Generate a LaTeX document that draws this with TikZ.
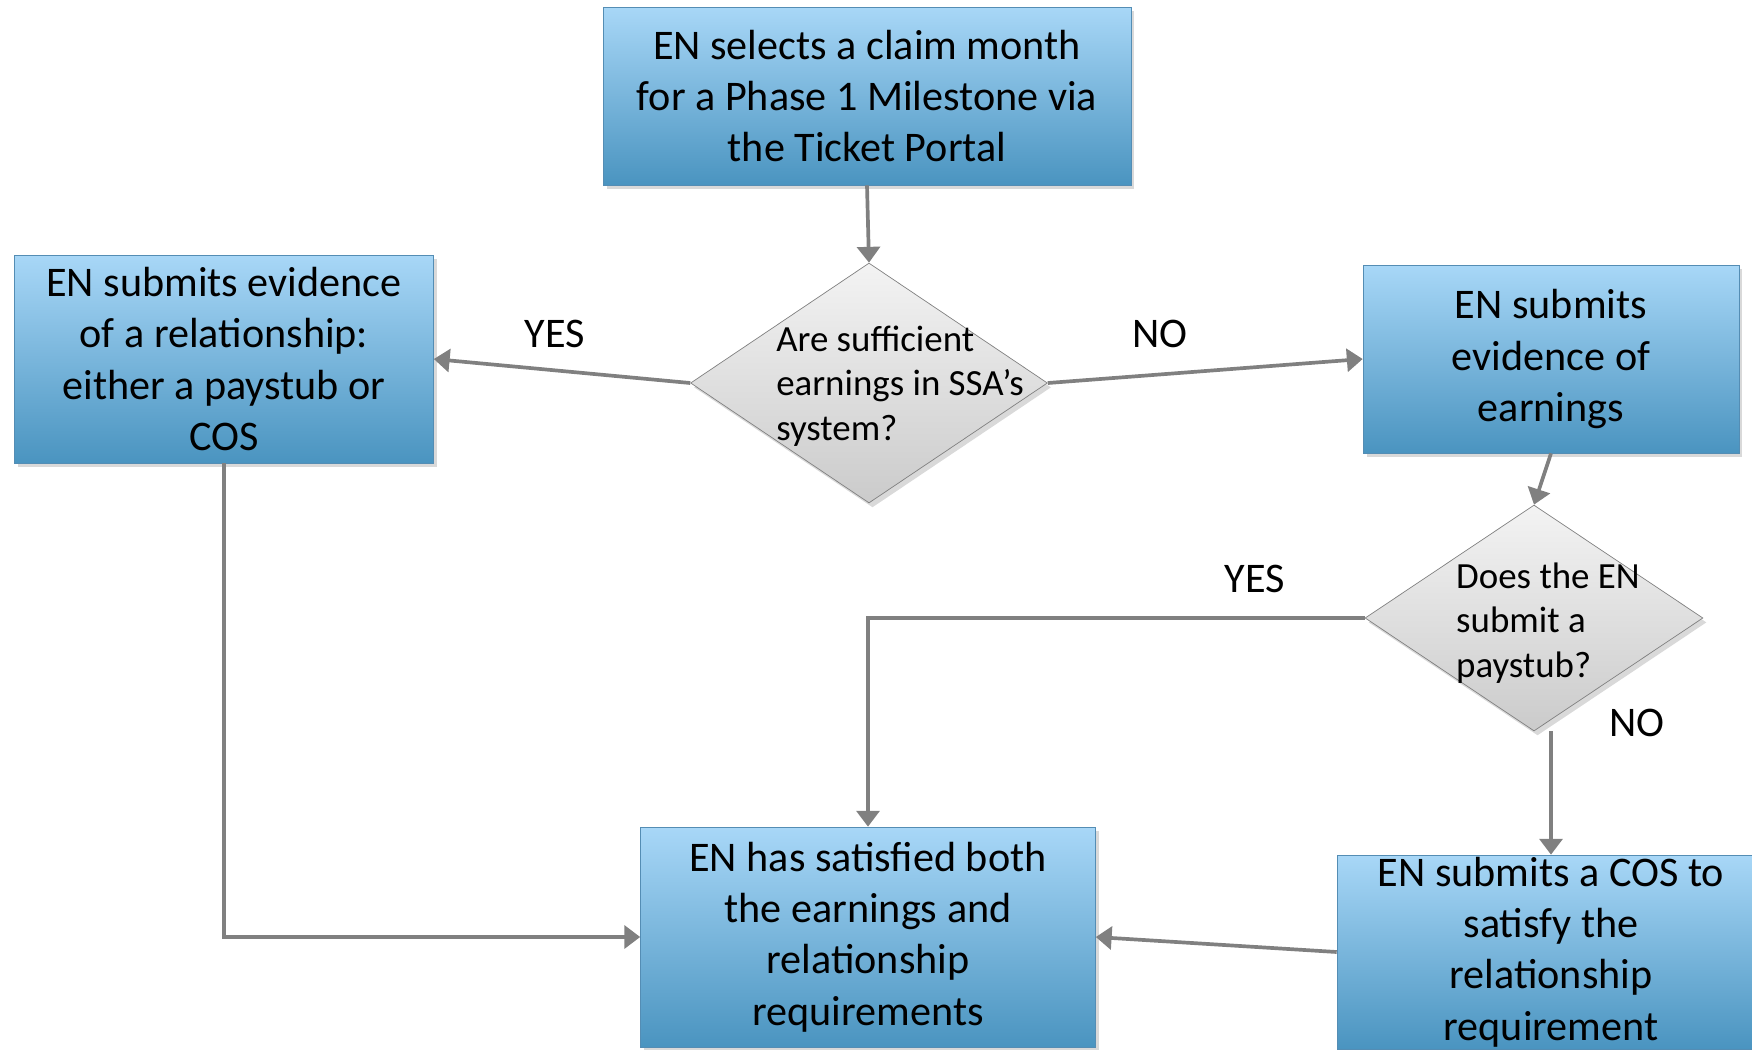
\documentclass[tikz,border=0pt]{standalone}
\usepackage{fontspec}
\setmainfont{Carlito}
\usetikzlibrary{shapes.geometric,arrows.meta,shadows}
\definecolor{boxtop}{RGB}{168,215,247}
\definecolor{boxbot}{RGB}{74,148,192}
\definecolor{boxline}{RGB}{84,141,180}
\definecolor{dectop}{RGB}{243,243,243}
\definecolor{decbot}{RGB}{203,203,203}
\definecolor{linegray}{RGB}{128,128,128}
\begin{document}
\begin{tikzpicture}[x=0.02cm, y=-0.02cm,
  box/.style={rectangle, draw=boxline, thin, top color=boxtop, bottom color=boxbot, align=center, inner sep=0pt, font=\fontsize{24}{29.3}\selectfont, drop shadow={opacity=0.3, shadow xshift=2pt, shadow yshift=-2.5pt}},
  decision/.style={diamond, draw=linegray, thin, top color=dectop, bottom color=decbot, inner sep=0pt, drop shadow={opacity=0.3, shadow xshift=2pt, shadow yshift=-2.5pt}},
  dectext/.style={align=left, inner sep=0pt, font=\fontsize{21}{25.3}\selectfont},
  answer/.style={inner sep=0pt, font=\fontsize{24}{29.3}\selectfont},
  flow/.style={draw=linegray, line width=2.1pt, -{Triangle[length=9pt,width=13pt]}},]
\useasboundingbox (0,0) rectangle (1752,1049);
% Boxes
\node[box, minimum width=10.56cm, minimum height=3.56cm] (claim) at (867,96) {EN selects a claim month\\for a Phase 1 Milestone via\\the Ticket Portal};
\node[box, minimum width=8.38cm, minimum height=4.16cm] (relation) at (224,359) {EN submits evidence\\of a relationship:\\either a paystub or\\COS};
\node[box, minimum width=7.52cm, minimum height=3.76cm] (earnings) at (1551,359) {EN submits\\evidence of\\earnings};
\node[box, minimum width=9.1cm, minimum height=4.4cm] (done) at (868,937) {EN has satisfied both\\the earnings and\\relationship\\requirements};
\node[box, minimum width=8.56cm, minimum height=3.88cm] (cos) at (1551,952) {EN submits a COS to\\satisfy the\\relationship\\requirement};
% Decisions
\node[decision, minimum width=7.14cm, minimum height=4.8cm] (ssa) at (869,383) {};
\node[dectext] (ssatext) at (900,386) {Are sufficient\\earnings in SSA’s\\system?};
\node[decision, minimum width=6.76cm, minimum height=4.52cm] (paystub) at (1534,618) {};
\node[dectext] (paystubtext) at (1548,623) {Does the EN\\submit a\\paystub?};
% Connectors
\draw[flow] (claim.south) -- (ssa.north);
\draw[flow] (ssa.west) -- (relation.east);
\draw[flow] (ssa.east) -- (earnings.west);
\draw[flow] (earnings.south) -- (paystub.north);
\draw[flow] (paystub.west) -| (done.north);
\draw[flow] (paystub.south -| cos.north) -- (cos.north);
\draw[flow] (relation.south) |- (done.west);
\draw[flow] (cos.west) -- (done.east);
% Answers
\node[answer] (yes1) at (555,334) {YES};
\node[answer] (no1) at (1160,334) {NO};
\node[answer] (yes2) at (1255,579) {YES};
\node[answer] (no2) at (1637,723) {NO};
\end{tikzpicture}
\end{document}
